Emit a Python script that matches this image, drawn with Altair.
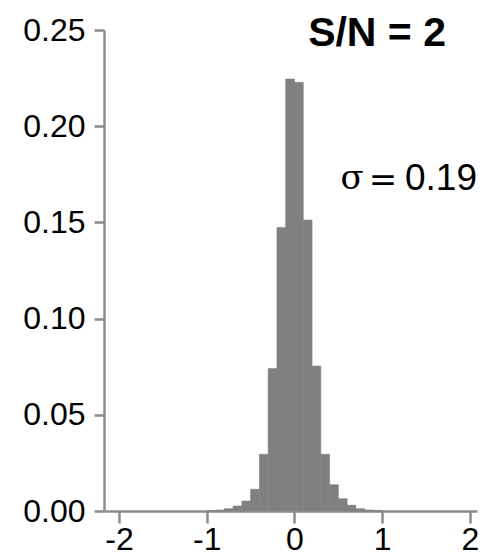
import altair as alt
import pandas as pd

bin_start = [-1.0, -0.9, -0.8, -0.7, -0.6, -0.5, -0.4, -0.3, -0.2, -0.1,
             0.0, 0.1, 0.2, 0.3, 0.4, 0.5, 0.6, 0.7, 0.8, 0.9]
bin_end = [round(b + 0.1, 1) for b in bin_start]
freq = [0.0002, 0.0005, 0.0012, 0.0026, 0.0052, 0.0113, 0.0295, 0.0740, 0.1474, 0.2245,
        0.2228, 0.1512, 0.0753, 0.0295, 0.0137, 0.0064, 0.0030, 0.0012, 0.0005, 0.0003]

x_ticks = [-2, -1, 0, 1, 2]
y_ticks = [0.0, 0.05, 0.10, 0.15, 0.20, 0.25]

df = pd.DataFrame({"start": bin_start, "end": bin_end, "freq": freq})

AX = "#8c8c8c"
FONT = "Liberation Sans"
BAR = "#808080"

bars = alt.Chart(df).mark_rect(color=BAR, stroke=BAR, strokeWidth=0.6).encode(
    x=alt.X("start:Q",
            scale=alt.Scale(domain=[-2.171, 2.08], nice=False, zero=False),
            axis=alt.Axis(values=x_ticks, labelExpr="datum.value + ''", title=None, grid=False,
                          domainColor=AX, domainWidth=2.5, tickColor=AX,
                          tickWidth=2.5, tickSize=12, labelFontSize=32,
                          labelFont=FONT, labelColor="#000", labelPadding=1)),
    x2="end:Q",
    y=alt.Y("freq:Q",
            scale=alt.Scale(domain=[0, 0.25], nice=False),
            axis=alt.Axis(values=y_ticks, format=".2f", title=None, grid=False,
                          domainColor=AX, domainWidth=2.5, tickColor=AX,
                          tickWidth=2.5, tickSize=10, labelFontSize=32,
                          labelFont=FONT, labelColor="#000", labelPadding=9)),
    y2=alt.datum(0),
)

sn = alt.Chart(pd.DataFrame({"t": ["S/N = 2"]})).mark_text(
    align="right", baseline="alphabetic", fontSize=41, fontWeight="bold",
    font=FONT, color="#000"
).encode(text="t:N", x=alt.value(342), y=alt.value(16))

sig = alt.Chart(pd.DataFrame({"t": ["σ"]})).mark_text(
    align="center", baseline="alphabetic", fontSize=34,
    font="DejaVu Serif", color="#000"
).encode(text="t:N", x=alt.value(248), y=alt.value(159))

eq = alt.Chart(pd.DataFrame({"t": ["="]})).mark_text(
    align="center", baseline="alphabetic", fontSize=34,
    font="DejaVu Serif", color="#000"
).encode(text="t:N", x=alt.value(279), y=alt.value(161))

val = alt.Chart(pd.DataFrame({"t": ["0.19"]})).mark_text(
    align="right", baseline="alphabetic", fontSize=37,
    font=FONT, color="#000"
).encode(text="t:N", x=alt.value(373), y=alt.value(160))

chart = alt.layer(bars, sn, sig, eq, val).properties(
    width=373, height=481,
    autosize=alt.AutoSizeParams(type="none"),
    padding={"left": 104, "top": 30, "right": 5, "bottom": 48},
    background="white",
).configure_view(stroke=None)

chart.save("out.html", embed_options={"renderer": "svg", "actions": False})
